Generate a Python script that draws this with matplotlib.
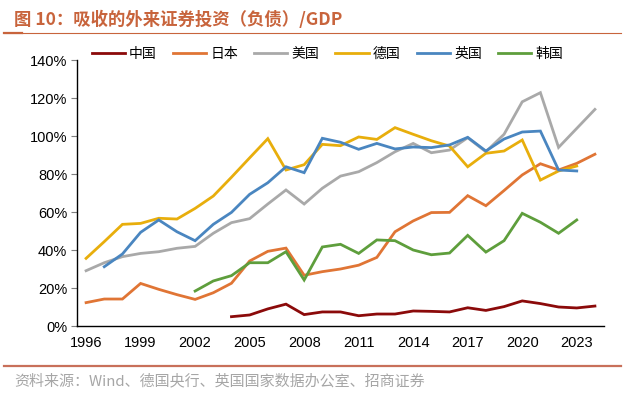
import matplotlib
matplotlib.use("Agg")
import matplotlib.pyplot as plt
from matplotlib.lines import Line2D
import numpy as np

plt.rcParams['font.family'] = ['Liberation Sans', 'Noto Sans CJK SC', 'DejaVu Sans']

years = list(range(1996, 2025))
nan = np.nan

china = [nan] * 8 + [4.9, 5.8, 9.0, 11.5, 6.0, 7.4, 7.4, 5.4, 6.3, 6.3, 7.9, 7.7, 7.4,
                     9.6, 8.2, 10.2, 13.2, 11.8, 10.0, 9.5, 10.5]
japan = [12.3, 14.2, 14.2, 22.4, 19.3, 16.5, 14.0, 17.5, 22.5, 34.2, 39.3, 41.0, 26.7,
         28.6, 30.0, 32.0, 36.1, 49.6, 55.3, 59.7, 59.8, 68.6, 63.3, 71.3, 79.5, 85.4,
         82.1, 85.6, 90.4]
usa = [29.1, 33.3, 36.5, 38.2, 39.1, 40.9, 41.9, 48.8, 54.4, 56.5, 64.2, 71.6, 64.2,
       72.5, 78.9, 81.2, 86.0, 91.7, 96.1, 91.2, 92.6, 99.1, 91.7, 100.9, 118.0, 122.8,
       94.0, 104.0, 114.0]
germany = [35.6, 44.4, 53.5, 54.0, 56.7, 56.3, 61.9, 68.4, 78.3, 88.5, 98.6, 82.1, 84.9,
           95.6, 94.9, 99.5, 98.2, 104.4, 100.9, 97.5, 94.7, 83.8, 90.9, 92.1, 97.9, 76.8,
           81.6, 84.2, nan]
uk = [nan, 31.2, 37.9, 49.3, 55.8, 49.6, 44.9, 53.5, 59.8, 69.3, 75.4, 83.8, 80.7, 98.8,
      96.7, 93.0, 96.1, 93.2, 94.2, 93.9, 95.3, 99.3, 92.1, 98.4, 102.1, 102.6, 82.1,
      81.6, nan]
korea = [nan] * 6 + [18.4, 23.7, 26.5, 33.3, 33.3, 39.1, 24.2, 41.6, 43.0, 38.2, 45.3,
                     44.9, 40.0, 37.5, 38.4, 47.7, 38.9, 44.9, 59.3, 54.6, 48.8, 55.8, nan]

names = ['中国', '日本', '美国', '德国', '英国', '韩国']
series = [china, japan, usa, germany, uk, korea]
colors = ['#8B0A0A', '#E07535', '#A9A9A9', '#E8AE0C', '#4A86C0', '#5E9E3C']

xtick_years = list(range(1996, 2024, 3))

fig = plt.figure(figsize=(6.26, 3.94), dpi=100)
ax = fig.add_axes([77 / 626, 1 - 326 / 394, 527 / 626, 266 / 394])

for name, vals, c in zip(names, series, colors):
    ax.plot(years, np.array(vals) / 100, color=c, lw=2.0, label=name,
            solid_joinstyle='miter')

ax.set_xlim(1995.5, 2024.5)
ax.set_ylim(0, 1.4)
ax.set_yticks(np.arange(0, 1.41, 0.2))
ax.set_yticklabels([f'{int(round(v * 100))}%' for v in np.arange(0, 1.41, 0.2)])
ax.set_xticks(xtick_years)
ax.tick_params(axis='x', length=0, pad=7, labelsize=10.5)
ax.tick_params(axis='y', length=4, width=0.8, direction='out', pad=3, labelsize=10.5,
               colors='#7f7f7f', labelcolor='black')
for s in ['top', 'right']:
    ax.spines[s].set_visible(False)
ax.spines['left'].set_color('black')
ax.spines['bottom'].set_color('black')
ax.spines['left'].set_linewidth(1.0)
ax.spines['bottom'].set_linewidth(1.0)

leg = ax.legend(loc='center', bbox_to_anchor=(0.475, 1.023), ncol=6, frameon=False,
                handlelength=2.4, handletextpad=0.3, columnspacing=1.15, borderpad=0,
                prop={'family': ['Noto Sans CJK SC'], 'size': 10})

title_color = '#C8643C'
fig.text(14 / 626, 1 - 19.5 / 394, '图 10：吸收的外来证券投资（负债）/GDP',
         color=title_color, fontsize=12.5, fontweight='bold', va='center', ha='left',
         family=['Noto Sans CJK SC', 'DejaVu Sans'])
fig.add_artist(Line2D([4 / 626, 621 / 626], [1 - 33 / 394] * 2, color=title_color,
                      lw=0.8, transform=fig.transFigure))
fig.add_artist(Line2D([4 / 626, 22 / 626], [1 - 33 / 394] * 2, color=title_color,
                      lw=1.6, transform=fig.transFigure))
fig.add_artist(Line2D([4 / 626, 621 / 626], [1 - 365.5 / 394] * 2, color='#C8705A',
                      lw=1.6, transform=fig.transFigure))
fig.text(14 / 626, 1 - 381 / 394, '资料来源：Wind、德国央行、英国国家数据办公室、招商证券',
         color='#A6A6A6', fontsize=10.8, va='center', ha='left',
         family=['Noto Sans CJK SC', 'DejaVu Sans'])

fig.savefig('out.png', dpi=100, facecolor='white')
